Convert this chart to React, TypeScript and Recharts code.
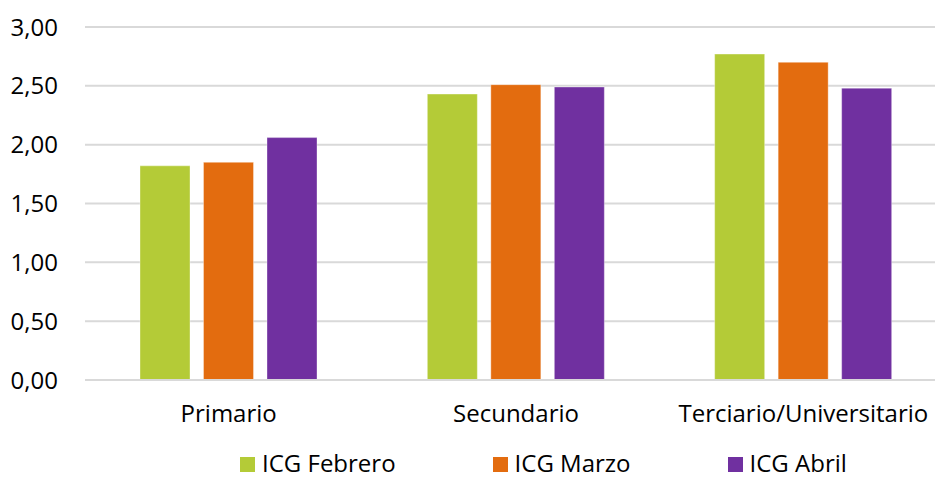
import { BarChart, Bar, XAxis, YAxis, CartesianGrid, Legend } from 'recharts';

const categories = ['Primario', 'Secundario', 'Terciario/Universitario'];
const febrero = [1.82, 2.43, 2.77];
const marzo = [1.85, 2.51, 2.70];
const abril = [2.06, 2.49, 2.48];
const yTicks = [0, 0.5, 1, 1.5, 2, 2.5, 3];

const SERIES = [
  { key: 'febrero', name: 'ICG Febrero', color: '#B4CB37' },
  { key: 'marzo', name: 'ICG Marzo', color: '#E36C0F' },
  { key: 'abril', name: 'ICG Abril', color: '#7030A0' },
];

const data = categories.map((name, i) => ({
  name,
  febrero: febrero[i],
  marzo: marzo[i],
  abril: abril[i],
}));

const FONT = '"Open Sans", sans-serif';

function LegendRow() {
  return (
    <div
      style={{
        height: 39,
        boxSizing: 'border-box',
        paddingTop: 10,
        paddingLeft: 240,
        display: 'flex',
        alignItems: 'flex-start',
        fontFamily: FONT,
        fontSize: 24,
        lineHeight: '25px',
        color: '#000',
      }}
    >
      {SERIES.map((s, i) => (
        <div key={s.key} style={{ display: 'flex', alignItems: 'center', marginRight: i < SERIES.length - 1 ? 97 : 0 }}>
          <span style={{ width: 15, height: 15, background: s.color, marginRight: 7, marginTop: 4, display: 'inline-block' }} />
          <span style={{ whiteSpace: 'nowrap' }}>{s.name}</span>
        </div>
      ))}
    </div>
  );
}

export default function App() {
  return (
    <div style={{ position: 'absolute', left: 0, top: 0, width: 935, height: 479, overflow: 'hidden', background: '#fff' }}>
      <BarChart
        width={960}
        height={479}
        data={data}
        margin={{ top: 27, right: 13, left: 0, bottom: 0 }}
        barSize={50}
        barGap={13.5}
      >
        <CartesianGrid vertical={false} stroke="#D9D9D9" strokeWidth={2} />
        <XAxis
          dataKey="name"
          height={60}
          axisLine={{ stroke: '#D9D9D9', strokeWidth: 2 }}
          tickLine={false}
          tickMargin={19}
          tick={{ fontFamily: FONT, fontSize: 24, fill: '#000' }}
        />
        <YAxis
          width={85}
          domain={[0, 3]}
          ticks={yTicks}
          axisLine={false}
          tickLine={false}
          tickMargin={21}
          tickFormatter={(v: number) => v.toFixed(2).replace('.', ',')}
          tick={{ fontFamily: FONT, fontSize: 24, fill: '#000' }}
        />
        <Legend verticalAlign="bottom" content={() => <LegendRow />} />
        {SERIES.map((s) => (
          <Bar
            key={s.key}
            dataKey={s.key}
            name={s.name}
            fill={s.color}
            stroke="#ffffff"
            strokeOpacity={0.35}
            strokeWidth={1}
            isAnimationActive={false}
          />
        ))}
      </BarChart>
    </div>
  );
}
